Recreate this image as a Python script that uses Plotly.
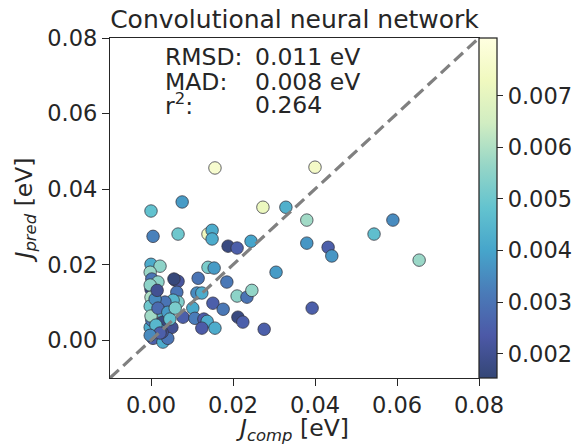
import plotly.graph_objects as go

# Data
j_comp = [0.0156, 0.0076, 0.0000, 0.0273, 0.0329, 0.0005, 0.0066, 0.0139, 0.0149, 0.0149,
          0.0188, 0.0210, 0.0244, 0.0000, 0.0022, 0.0139, 0.0154, 0.0305, -0.0002, 0.0002,
          0.0059, 0.0066, 0.0115, 0.0185, 0.0000, 0.0063, 0.0112, 0.0124, 0.0210, 0.0234,
          0.0246, 0.0066, 0.0054, 0.0034, 0.0102, 0.0151, 0.0176, 0.0005, 0.0078, 0.0107,
          0.0129, 0.0137, 0.0212, 0.0224, 0.0156, 0.0124, 0.0276, -0.0002, 0.0039, 0.0051,
          0.0005, 0.0029, 0.0041, 0.0027, 0.0400, 0.0380, 0.0380, 0.0432, 0.0441, 0.0544,
          0.0590, 0.0654, 0.0393, 0.0002, 0.0010, 0.0029, 0.0002, 0.0029, 0.0017, 0.0056,
          -0.0002, 0.0000, -0.0002, 0.0000, 0.0010, 0.0017, 0.0022, 0.0012, 0.0015, 0.0041,
          0.0046, 0.0059, 0.0022, -0.0002]
j_pred = [0.0456, 0.0366, 0.0342, 0.0352, 0.0352, 0.0275, 0.0281, 0.0281, 0.0291, 0.0268,
          0.0249, 0.0244, 0.0262, 0.0201, 0.0196, 0.0193, 0.0191, 0.0180, 0.0180, 0.0162,
          0.0159, 0.0156, 0.0164, 0.0154, 0.0135, 0.0127, 0.0125, 0.0125, 0.0117, 0.0114,
          0.0132, 0.0101, 0.0106, 0.0101, 0.0085, 0.0098, 0.0082, 0.0079, 0.0061, 0.0058,
          0.0056, 0.0050, 0.0061, 0.0048, 0.0032, 0.0032, 0.0029, 0.0034, 0.0045, 0.0034,
          0.0005, -0.0005, 0.0005, 0.0021, 0.0458, 0.0318, 0.0257, 0.0246, 0.0223, 0.0281,
          0.0318, 0.0212, 0.0085, 0.0098, 0.0125, 0.0072, 0.0053, 0.0048, 0.0154, 0.0162,
          0.0146, 0.0114, 0.0090, 0.0064, 0.0109, 0.0085, 0.0026, 0.0040, 0.0132, 0.0074,
          0.0056, 0.0085, 0.0019, 0.0013]
uncert = [0.0077, 0.0038, 0.0048, 0.0072, 0.0043, 0.0033, 0.0050, 0.0073, 0.0042, 0.0042,
          0.0017, 0.0025, 0.0040, 0.0042, 0.0055, 0.0052, 0.0038, 0.0038, 0.0057, 0.0030,
          0.0018, 0.0022, 0.0030, 0.0031, 0.0017, 0.0030, 0.0035, 0.0042, 0.0055, 0.0030,
          0.0056, 0.0053, 0.0045, 0.0030, 0.0041, 0.0025, 0.0031, 0.0032, 0.0025, 0.0032,
          0.0024, 0.0042, 0.0017, 0.0025, 0.0042, 0.0024, 0.0025, 0.0042, 0.0022, 0.0020,
          0.0025, 0.0042, 0.0030, 0.0022, 0.0075, 0.0058, 0.0037, 0.0025, 0.0037, 0.0047,
          0.0035, 0.0057, 0.0025, 0.0055, 0.0031, 0.0045, 0.0031, 0.0017, 0.0055, 0.0016,
          0.0055, 0.0060, 0.0050, 0.0058, 0.0035, 0.0028, 0.0035, 0.0045, 0.0020, 0.0038,
          0.0048, 0.0052, 0.0025, 0.0035]

diag = [-0.01, 0.08]
axis_ticks = [0.00, 0.02, 0.04, 0.06, 0.08]
cbar_ticks = [0.002, 0.003, 0.004, 0.005, 0.006, 0.007]
stat_labels = ["RMSD:", "MAD:", "r<sup>2</sup>:"]
stat_values = ["0.011 eV", "0.008 eV", "0.264"]

base = ["#081d58", "#253494", "#225ea8", "#1d91c0", "#41b6c4", "#7fcdbb", "#c7e9b4", "#edf8b1", "#ffffd9"]
alpha = 0.82
def blend(h):
    r, g, b = int(h[1:3], 16), int(h[3:5], 16), int(h[5:7], 16)
    f = lambda c: round(alpha * c + (1 - alpha) * 255)
    return f"rgb({f(r)},{f(g)},{f(b)})"
cscale = [[i / 8, blend(c)] for i, c in enumerate(base)]

TXT = "#262626"
FONT = "DejaVu Sans"
TICK = 22.5

fig = go.Figure()
fig.add_trace(go.Scatter(
    x=j_comp, y=j_pred, mode="markers",
    marker=dict(size=12.5, color=uncert, colorscale=cscale, cmin=0.00153, cmax=0.00812,
                line=dict(color="rgba(50,50,60,0.75)", width=1),
                colorbar=dict(x=1, xanchor="left", xpad=0, y=0.5, yanchor="middle", ypad=0,
                              len=1, lenmode="fraction", thickness=18,
                              outlinewidth=1.25, outlinecolor=TXT,
                              tickvals=cbar_ticks, tickformat=".3f", ticks="outside",
                              ticklen=6, tickwidth=1.25, tickcolor=TXT,
                              tickfont=dict(size=TICK, color=TXT, family=FONT))),
    showlegend=False, hoverinfo="skip"))
fig.add_trace(go.Scatter(x=diag, y=diag, mode="lines",
                         line=dict(color="rgb(128,128,128)", width=3.2, dash="12px,6px"),
                         showlegend=False, hoverinfo="skip"))

ax = dict(range=[-0.01, 0.08], tickvals=axis_ticks, tickformat=".2f", showline=True, mirror=True,
          linecolor=TXT, linewidth=1.25, ticks="outside", ticklen=7, tickwidth=1.25, tickcolor=TXT,
          showgrid=False, zeroline=False, automargin=False,
          tickfont=dict(size=TICK, color=TXT, family=FONT))

fig.update_layout(
    width=577, height=445, margin=dict(l=110, r=98, t=38, b=67, autoexpand=False),
    plot_bgcolor="white", paper_bgcolor="white",
    font=dict(family=FONT, color=TXT),
    title=dict(text="Convolutional neural network", x=0.5, xref="paper", xanchor="center",
               y=1 - 19 / 445, yref="container", yanchor="middle", automargin=False,
               font=dict(size=25, color=TXT, family=FONT)),
    xaxis=dict(ax, title=dict(text="<i>J</i><sub><i>comp</i></sub> [eV]", standoff=12,
                              font=dict(size=23.5, color=TXT, family=FONT))),
    yaxis=dict(ax, title=dict(text="<i>J</i><sub><i>pred</i></sub> [eV]", standoff=8,
                              font=dict(size=23.5, color=TXT, family=FONT))),
)

ys = [0.944, 0.872, 0.804]
for lab, val, yy in zip(stat_labels, stat_values, ys):
    fig.add_annotation(x=(163 - 110) / 369, y=yy, xref="paper", yref="paper", text=lab, showarrow=False,
                       xanchor="left", yanchor="middle", font=dict(size=23.5, color=TXT, family=FONT))
    fig.add_annotation(x=(253 - 110) / 369, y=yy, xref="paper", yref="paper", text=val, showarrow=False,
                       xanchor="left", yanchor="middle", font=dict(size=23.5, color=TXT, family=FONT))

fig.write_html("out.html", config={"displayModeBar": False},
               post_script="document.body.style.margin='0';document.body.style.padding='0';")
